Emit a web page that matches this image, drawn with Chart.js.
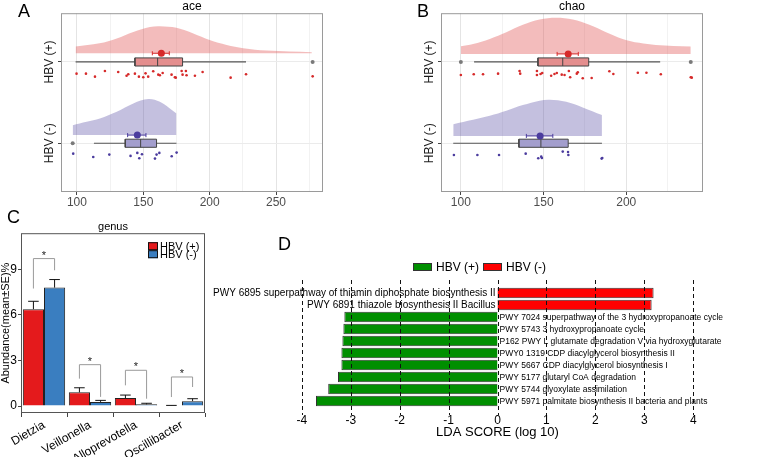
<!DOCTYPE html>
<html>
<head>
<meta charset="utf-8">
<script src="https://cdn.jsdelivr.net/npm/chart.js@4.4.1/dist/chart.umd.min.js"></script>
<style>
  body { margin: 0; background: #fff; }
  #wrap { position: relative; width: 784px; height: 457px; overflow: hidden; font-family: 'Liberation Sans', Arial, sans-serif; }
  canvas { position: absolute; }
  .lab { position: absolute; font-size: 18px; line-height: 18px; color: #000; }
</style>
</head>
<body>
<div id="wrap">
  <canvas id="cA" width="340" height="215" style="left:0;top:0"></canvas>
  <canvas id="cB" width="340" height="215" style="left:380px;top:0"></canvas>
  <canvas id="cC" width="210" height="239" style="left:0;top:218px"></canvas>
  <canvas id="cD" width="584" height="221" style="left:200px;top:236px"></canvas>
  <div class="lab" style="left:18px;top:2px">A</div>
  <div class="lab" style="left:417px;top:2px">B</div>
  <div class="lab" style="left:7px;top:208px">C</div>
  <div class="lab" style="left:278px;top:235px">D</div>
</div>
<script>
// ---------- panel A : ace ----------
const aceRange = [88, 285.4];
const aceTicks = [100, 125, 150, 175, 200, 225, 250, 275];
const acePosDensX = [99, 117, 130, 142.5, 155, 162.5, 175, 187.7, 200, 212.8, 225.3, 243, 277];
const acePosDensY = [2.19, 2.23, 2.29, 2.37, 2.43, 2.44, 2.42, 2.35, 2.27, 2.21, 2.17, 2.14, 2.12];
const aceNegDensX = [96.8, 107.3, 117.3, 130, 142.5, 153.8, 162.5, 170, 175];
const aceNegDensY = [1.222, 1.263, 1.305, 1.387, 1.49, 1.543, 1.51, 1.428, 1.366];
const acePosBox = [99, 143.7, 160.8, 179.6, 227.4];   // min, q1, median, q3, max
const aceNegBox = [112.8, 136.4, 148, 160, 175];
const acePosOut = [277.6];
const aceNegOut = [96.8];
const acePosMean = [163.6, 156.8, 169.6];              // mean, low, high
const aceNegMean = [145.5, 138.2, 152];
const acePosPtsX = [99.7, 106.8, 113.6, 121.1, 131.1, 137.4, 138.7, 143.7, 146.7, 150, 151.7, 153.7, 157.5, 161.3, 162.5, 164.6, 171.3, 173.8, 174.5, 178.9, 179.6, 182.1, 182.6, 188.9, 194.7, 215.8, 227.4, 277.6];
const acePosPtsY = [1.856, 1.856, 1.819, 1.889, 1.877, 1.831, 1.848, 1.856, 1.819, 1.811, 1.86, 1.819, 1.885, 1.844, 1.836, 1.864, 1.844, 1.811, 1.807, 1.889, 1.844, 1.889, 1.836, 1.831, 1.877, 1.807, 1.848, 1.823];
const aceNegPtsX = [97.2, 112.3, 124.4, 140.4, 145.5, 147, 149, 158.8, 160, 162.1, 171.4, 175.1];
const aceNegPtsY = [0.872, 0.831, 0.86, 0.844, 0.881, 0.815, 0.864, 0.811, 0.86, 0.881, 0.839, 0.885];

// ---------- panel B : chao ----------
const chaoRange = [88, 246.4];
const chaoTicks = [100, 125, 150, 175, 200, 225];
const chaoPosDensX = [100, 107.4, 117.5, 127.5, 137.5, 147.6, 157.6, 167.7, 177.7, 187.8, 197.8, 207.8, 217.9, 239];
const chaoPosDensY = [2.194, 2.222, 2.284, 2.366, 2.457, 2.522, 2.543, 2.522, 2.457, 2.366, 2.284, 2.235, 2.21, 2.19];
const chaoNegDensX = [95.4, 107.4, 117.5, 127.5, 137.5, 147.6, 153.6, 163.7, 173.7, 185.3];
const chaoNegDensY = [1.235, 1.288, 1.337, 1.399, 1.469, 1.523, 1.535, 1.51, 1.44, 1.346];
const chaoPosBox = [108, 146.6, 161.6, 177.3, 220.5];
const chaoNegBox = [95.4, 135.1, 148.4, 164.9, 185.3];
const chaoPosOut = [100, 239];
const chaoNegOut = [];
const chaoPosMean = [164.9, 158.2, 171];
const chaoNegMean = [147.9, 139.6, 155.6];
const chaoPosPtsX = [100, 107.8, 113.4, 122.5, 135.5, 135.9, 146, 146, 148.2, 149.2, 154.6, 156.6, 158, 161, 162.7, 165.3, 166.1, 170.1, 170.7, 173.7, 179.1, 189.8, 192.2, 207, 212.2, 220.9, 239, 239.6];
const chaoPosPtsY = [1.84, 1.848, 1.848, 1.856, 1.889, 1.856, 1.889, 1.84, 1.852, 1.864, 1.831, 1.852, 1.864, 1.844, 1.84, 1.889, 1.811, 1.856, 1.872, 1.799, 1.803, 1.885, 1.852, 1.868, 1.868, 1.848, 1.811, 1.807];
const chaoNegPtsX = [95.8, 110, 123.1, 139.2, 146.8, 148.6, 149, 161.6, 164.8, 165, 185.1, 185.5];
const chaoNegPtsY = [0.856, 0.856, 0.856, 0.872, 0.815, 0.835, 0.819, 0.897, 0.893, 0.856, 0.811, 0.819];

const rowNames = ['HBV (-)', 'HBV (+)'];

// ---------- panel C : genus ----------
const genera = ['Dietzia', 'Veillonella', 'Alloprevotella', 'Oscillibacter'];
const posMean = [6.37, 0.9, 0.52, 0.03];
const posSE = [0.52, 0.3, 0.2, 0.01];
const negMean = [7.79, 0.27, 0.11, 0.32];
const negSE = [0.53, 0.1, 0.07, 0.16];
const sigTop = [9.7, 2.72, 2.35, 1.91];
const sigLeft = [7.73, 1.8, 1.36, 0.59];
const sigRight = [8.93, 0.6, 0.48, 1.25];
const genusTicks = [0, 3, 6, 9];

// ---------- panel D : LDA ----------
const ldaPaths = [
  'PWY 6895 superpathway of thiamin diphosphate biosynthesis II',
  'PWY 6891 thiazole biosynthesis II Bacillus',
  'PWY 7024 superpathway of the 3 hydroxypropanoate cycle',
  'PWY 5743 3 hydroxypropanoate cycle',
  'P162 PWY L glutamate degradation V via hydroxyglutarate',
  'PWY0 1319 CDP diacylglycerol biosynthesis II',
  'PWY 5667 CDP diacylglycerol biosynthesis I',
  'PWY 5177 glutaryl CoA degradation',
  'PWY 5744 glyoxylate assimilation',
  'PWY 5971 palmitate biosynthesis II bacteria and plants'
];
const ldaScore = [3.19, 3.15, -3.13, -3.15, -3.17, -3.19, -3.19, -3.26, -3.46, -3.71];
const ldaGroup = ['HBV (-)', 'HBV (-)', 'HBV (+)', 'HBV (+)', 'HBV (+)', 'HBV (+)', 'HBV (+)', 'HBV (+)', 'HBV (+)', 'HBV (+)'];
const ldaTicks = [-4, -3, -2, -1, 0, 1, 2, 3, 4];

const FONT = "'Liberation Sans', Arial, sans-serif";
Chart.defaults.font.family = FONT;
Chart.defaults.animation = false;
Chart.defaults.events = [];
Chart.defaults.plugins.legend.display = false;
Chart.defaults.plugins.tooltip.enabled = false;

function xy(xs, ys) { return xs.map((x, i) => ({x: x, y: ys[i]})); }

// all the layers of one raincloud row
function rainSets(g, row, base, col) {
  const h = 0.05, c = 0.025, b = g.box, m = g.mean;
  return [
    {data: xy(g.densX, g.densY), showLine: true, borderWidth: 0, borderColor: 'rgba(0,0,0,0)', pointRadius: 0,
     backgroundColor: col.dens, fill: {value: base}, tension: 0.35, order: 9},
    {data: [{x: b[0], y: row}, {x: b[4], y: row}], showLine: true, borderColor: '#555', borderWidth: 1.2, pointRadius: 0, order: 8},
    {data: [{x: b[1], y: row - h}, {x: b[3], y: row - h}, {x: b[3], y: row + h}, {x: b[1], y: row + h}, {x: b[1], y: row - h}],
     showLine: true, fill: 'shape', backgroundColor: col.box, borderColor: '#444', borderWidth: 1, pointRadius: 0, order: 7},
    {data: [{x: b[2], y: row - h}, {x: b[2], y: row + h}], showLine: true, borderColor: '#444', borderWidth: 1, pointRadius: 0, order: 6},
    {data: g.out.map(v => ({x: v, y: row})), pointRadius: 2, backgroundColor: '#7a7a7a', pointBorderWidth: 0, order: 5},
    {data: xy(g.ptsX, g.ptsY), pointRadius: 1.3, backgroundColor: col.dot, pointBorderWidth: 0, order: 4},
    {data: [{x: m[1], y: base - c}, {x: m[1], y: base + c}, {x: null, y: null}, {x: m[1], y: base}, {x: m[2], y: base},
            {x: null, y: null}, {x: m[2], y: base - c}, {x: m[2], y: base + c}],
     showLine: true, spanGaps: false, borderColor: col.dot, borderWidth: 1, pointRadius: 0, order: 3},
    {data: [{x: m[0], y: base}], pointRadius: 3.5, backgroundColor: col.dot, pointBorderWidth: 0, order: 2}
  ];
}

const redCol = {dens: 'rgba(226,96,96,0.42)', box: '#E48E8E', dot: '#D62A2A'};
const bluCol = {dens: 'rgba(100,90,170,0.38)', box: '#A39ECD', dot: '#4B3C9E'};

const rainFrame = {
  id: 'rainFrame',
  afterDraw(chart) {
    const a = chart.chartArea, ctx = chart.ctx, y = chart.scales.y;
    ctx.save();
    ctx.strokeStyle = '#9a9a9a';
    ctx.lineWidth = 1;
    ctx.strokeRect(a.left + 0.5, a.top + 0.5, a.right - a.left - 1, a.bottom - a.top - 1);
    ctx.fillStyle = '#1a1a1a';
    ctx.font = '12px ' + FONT;
    ctx.textAlign = 'center';
    ctx.textBaseline = 'middle';
    rowNames.forEach((name, i) => {
      ctx.save();
      ctx.translate(a.left - 11, y.getPixelForValue(i + 1));
      ctx.rotate(-Math.PI / 2);
      ctx.fillText(name, 0, 0);
      ctx.restore();
    });
    ctx.restore();
  }
};

function makeRain(id, title, range, ticks, pos, neg) {
  new Chart(document.getElementById(id), {
    type: 'scatter',
    data: {datasets: rainSets(pos, 2, pos.base, redCol).concat(rainSets(neg, 1, neg.base, bluCol))},
    options: {
      responsive: false,
      layout: {padding: {left: 0, right: 17, top: 0, bottom: 0}},
      plugins: {
        title: {display: true, text: title, fullSize: false, color: '#000', font: {size: 12, weight: 'normal', lineHeight: 1.1}, padding: {top: 0, bottom: 0}}
      },
      scales: {
        x: {
          type: 'linear', min: range[0], max: range[1],
          afterBuildTicks: s => { s.ticks = ticks.map(v => ({value: v})); },
          afterFit: s => { s.height = 23; },
          border: {display: false},
          grid: {
            color: c => (c.tick && c.tick.value % 50 === 0) ? '#e4e4e4' : '#f2f2f2',
            tickColor: c => (c.tick && c.tick.value % 50 === 0) ? '#444' : 'rgba(0,0,0,0)',
            tickLength: 3
          },
          ticks: {color: '#4d4d4d', font: {size: 12}, padding: 0, maxRotation: 0,
                  callback: v => v % 50 === 0 ? v : ''}
        },
        y: {
          type: 'linear', min: 0.4, max: 2.6,
          afterBuildTicks: s => { s.ticks = [{value: 1}, {value: 2}]; },
          afterFit: s => { s.width = 61; },
          border: {display: false},
          grid: {color: '#ebebeb', tickColor: '#444', tickLength: 3},
          ticks: {display: false}
        }
      }
    },
    plugins: [rainFrame]
  });
}

makeRain('cA', 'ace', aceRange, aceTicks,
  {densX: acePosDensX, densY: acePosDensY, box: acePosBox, out: acePosOut, mean: acePosMean, ptsX: acePosPtsX, ptsY: acePosPtsY, base: 2.107},
  {densX: aceNegDensX, densY: aceNegDensY, box: aceNegBox, out: aceNegOut, mean: aceNegMean, ptsX: aceNegPtsX, ptsY: aceNegPtsY, base: 1.1});

makeRain('cB', 'chao', chaoRange, chaoTicks,
  {densX: chaoPosDensX, densY: chaoPosDensY, box: chaoPosBox, out: chaoPosOut, mean: chaoPosMean, ptsX: chaoPosPtsX, ptsY: chaoPosPtsY, base: 2.099},
  {densX: chaoNegDensX, densY: chaoNegDensY, box: chaoNegBox, out: chaoNegOut, mean: chaoNegMean, ptsX: chaoNegPtsX, ptsY: chaoNegPtsY, base: 1.09});

// ---------- panel C ----------
const genusExtras = {
  id: 'genusExtras',
  afterDatasetsDraw(chart) {
    const ctx = chart.ctx, y = chart.scales.y, a = chart.chartArea;
    const mean = [posMean, negMean], se = [posSE, negSE];
    const m0 = chart.getDatasetMeta(0).data, m1 = chart.getDatasetMeta(1).data;
    ctx.save();
    // error bars (upper half only)
    ctx.strokeStyle = '#111';
    ctx.lineWidth = 1;
    [m0, m1].forEach((bars, d) => bars.forEach((bar, i) => {
      const top = y.getPixelForValue(mean[d][i] + se[d][i]);
      const w = bar.width * 0.25;
      ctx.beginPath();
      ctx.moveTo(bar.x, bar.y);
      ctx.lineTo(bar.x, top);
      ctx.moveTo(bar.x - w, top);
      ctx.lineTo(bar.x + w, top);
      ctx.stroke();
    }));
    // significance brackets
    ctx.strokeStyle = '#9a9a9a';
    ctx.fillStyle = '#222';
    ctx.font = '11px ' + FONT;
    ctx.textAlign = 'center';
    ctx.textBaseline = 'middle';
    genera.forEach((g, i) => {
      const lx = m0[i].x, rx = m1[i].x, ty = y.getPixelForValue(sigTop[i]);
      ctx.beginPath();
      ctx.moveTo(lx, y.getPixelForValue(sigLeft[i]));
      ctx.lineTo(lx, ty);
      ctx.lineTo(rx, ty);
      ctx.lineTo(rx, y.getPixelForValue(sigRight[i]));
      ctx.stroke();
      ctx.fillText('*', (lx + rx) / 2, ty - 3);
    });
    // frame
    ctx.strokeStyle = '#555';
    ctx.strokeRect(a.left + 0.5, a.top + 0.5, a.right - a.left - 1, a.bottom - a.top - 1);
    // legend
    const ds = chart.data.datasets;
    ctx.font = '11px ' + FONT;
    ctx.textAlign = 'left';
    ds.forEach((d, k) => {
      const bx = a.right - 57, by = a.top + 9 + k * 8;
      ctx.fillStyle = d.backgroundColor;
      ctx.fillRect(bx, by, 10, 8);
      ctx.strokeStyle = '#111';
      ctx.strokeRect(bx + 0.5, by + 0.5, 9, 7);
      ctx.fillStyle = '#000';
      ctx.fillText(d.label, bx + 12, by + 4.5);
    });
    ctx.restore();
  }
};

new Chart(document.getElementById('cC'), {
  type: 'bar',
  data: {
    labels: genera,
    datasets: [
      {label: 'HBV (+)', data: posMean, backgroundColor: '#E41A1C', borderColor: '#222', borderWidth: 1},
      {label: 'HBV (-)', data: negMean, backgroundColor: '#3A7EC0', borderColor: '#222', borderWidth: 1}
    ]
  },
  options: {
    responsive: false,
    layout: {padding: {left: 0, right: 5, top: 0, bottom: 0}},
    datasets: {bar: {categoryPercentage: 0.92, barPercentage: 1.0}},
    plugins: {
      title: {display: true, text: 'genus', fullSize: false, color: '#000', font: {size: 11, weight: 'normal'}, padding: {top: 2, bottom: 0}}
    },
    scales: {
      x: {
        afterFit: s => { s.height = 44; },
        border: {display: false},
        grid: {drawOnChartArea: false, tickLength: 4, tickColor: '#444'},
        ticks: {color: '#000', font: {size: 12}, minRotation: 30, maxRotation: 30, padding: 1}
      },
      y: {
        min: -0.46, max: 11.37,
        afterBuildTicks: s => { s.ticks = genusTicks.map(v => ({value: v})); },
        afterFit: s => { s.width = 21; },
        border: {display: false},
        grid: {drawOnChartArea: false, tickLength: 3, tickColor: '#444'},
        ticks: {color: '#000', font: {size: 12}, padding: 1},
        title: {display: true, text: 'Abundance(mean±SE)%', color: '#000', font: {size: 11, lineHeight: 1}, padding: 0}
      }
    }
  },
  plugins: [genusExtras]
});

// ---------- panel D ----------
const groupColor = {'HBV (+)': '#008F00', 'HBV (-)': '#FF0000'};

const ldaExtras = {
  id: 'ldaExtras',
  afterDatasetsDraw(chart) {
    const ctx = chart.ctx, x = chart.scales.x, a = chart.chartArea;
    const bars = chart.getDatasetMeta(0).data;
    const x0 = x.getPixelForValue(0);
    ctx.save();
    // dashed guides
    ctx.strokeStyle = '#111';
    ctx.lineWidth = 1;
    ctx.setLineDash([4, 3]);
    ldaTicks.forEach(v => {
      const px = Math.round(x.getPixelForValue(v)) + 0.5;
      ctx.beginPath();
      ctx.moveTo(px, a.top - 7);
      ctx.lineTo(px, a.bottom + 8);
      ctx.stroke();
    });
    ctx.setLineDash([]);
    // pathway names
    ctx.fillStyle = '#000';
    ctx.textBaseline = 'middle';
    bars.forEach((bar, i) => {
      if (ldaScore[i] > 0) {
        ctx.font = '10px ' + FONT;
        ctx.textAlign = 'right';
        ctx.fillText(ldaPaths[i], x0 - 2, bar.y + 0.5);
      } else {
        ctx.font = '8.5px ' + FONT;
        ctx.textAlign = 'left';
        ctx.fillText(ldaPaths[i], x0 + 2, bar.y + 0.5);
      }
    });
    // legend
    ctx.font = '12px ' + FONT;
    ctx.textAlign = 'left';
    let lx = 213;
    ['HBV (+)', 'HBV (-)'].forEach(g => {
      ctx.fillStyle = groupColor[g];
      ctx.fillRect(lx, 27, 19, 8);
      ctx.strokeStyle = '#333';
      ctx.strokeRect(lx + 0.5, 27.5, 18, 7);
      ctx.fillStyle = '#000';
      ctx.fillText(g, lx + 23, 31.5);
      lx += 70;
    });
    ctx.restore();
  }
};

new Chart(document.getElementById('cD'), {
  type: 'bar',
  data: {
    labels: ldaPaths,
    datasets: [{
      label: 'LDA',
      data: ldaScore,
      backgroundColor: c => groupColor[ldaGroup[c.dataIndex]],
      borderColor: '#333',
      borderWidth: 1,
      categoryPercentage: 0.86,
      barPercentage: 1.0
    }]
  },
  options: {
    indexAxis: 'y',
    responsive: false,
    layout: {padding: {left: 92, right: 81, top: 51, bottom: 0}},
    scales: {
      x: {
        min: -4.2, max: 4.2,
        afterBuildTicks: s => { s.ticks = ldaTicks.map(v => ({value: v})); },
        afterFit: s => { s.height = 50; },
        border: {display: false},
        grid: {display: false, tickLength: 6},
        ticks: {color: '#000', font: {size: 12}, padding: 0, maxRotation: 0},
        title: {display: true, text: 'LDA SCORE (log 10)', color: '#000', font: {size: 13}, padding: {top: 0, bottom: 17}}
      },
      y: {display: false}
    }
  },
  plugins: [ldaExtras]
});
</script>
</body>
</html>
